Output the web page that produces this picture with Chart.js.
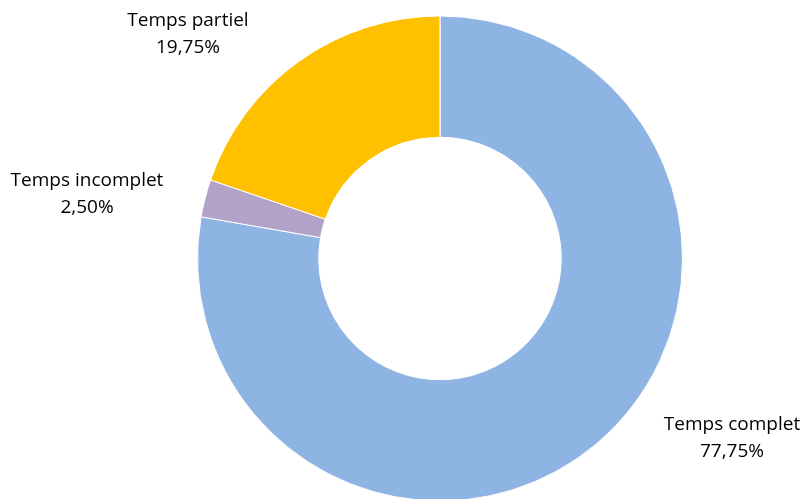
<!DOCTYPE html>
<html>
<head>
<meta charset="utf-8">
<script src="https://cdn.jsdelivr.net/npm/chart.js@4"></script>
<style>
  html, body { margin: 0; padding: 0; background: #fff; overflow: hidden; }
  #wrap { width: 806px; height: 502px; position: relative; }
</style>
</head>
<body>
<div id="wrap"><canvas id="chart"></canvas></div>
<script>
// Répartition par temps de travail
const categories = ['Temps complet', 'Temps incomplet', 'Temps partiel']
const values = [77.75, 2.5, 19.75]
const colors = ['#8EB4E3', '#B3A2C7', '#FFC000']

// Position des étiquettes (centre du bloc de texte)
const labelPos = [
  { x: 732, y: 438 },
  { x: 87, y: 194 },
  { x: 188, y: 34 },
]

function formatPct(v) {
  return v.toFixed(2).replace('.', ',') + '%'
}

// Étiquettes « catégorie / pourcentage » à côté de l'anneau
const outsideLabels = {
  id: 'outsideLabels',
  afterDraw(chart) {
    const ctx = chart.ctx
    ctx.save()
    ctx.fillStyle = '#000'
    ctx.font = '19px "Open Sans", "Liberation Sans", sans-serif'
    ctx.textAlign = 'center'
    ctx.textBaseline = 'middle'
    chart.data.labels.forEach((label, i) => {
      const p = labelPos[i]
      ctx.fillText(label, p.x, p.y - 13.5)
      ctx.fillText(formatPct(chart.data.datasets[0].data[i]), p.x, p.y + 13.5)
    })
    ctx.restore()
  },
}

new Chart(document.getElementById('chart'), {
  type: 'doughnut',
  data: {
    labels: categories,
    datasets: [{
      data: values,
      backgroundColor: colors,
      borderColor: '#fff',
      borderWidth: 1,
    }],
  },
  options: {
    responsive: true,
    maintainAspectRatio: false,
    animation: false,
    cutout: '50%',
    layout: {
      padding: { left: 197, right: 123, top: 15, bottom: 0 },
    },
    plugins: {
      legend: { display: false },
      tooltip: { enabled: false },
    },
  },
  plugins: [outsideLabels],
})
</script>
</body>
</html>
